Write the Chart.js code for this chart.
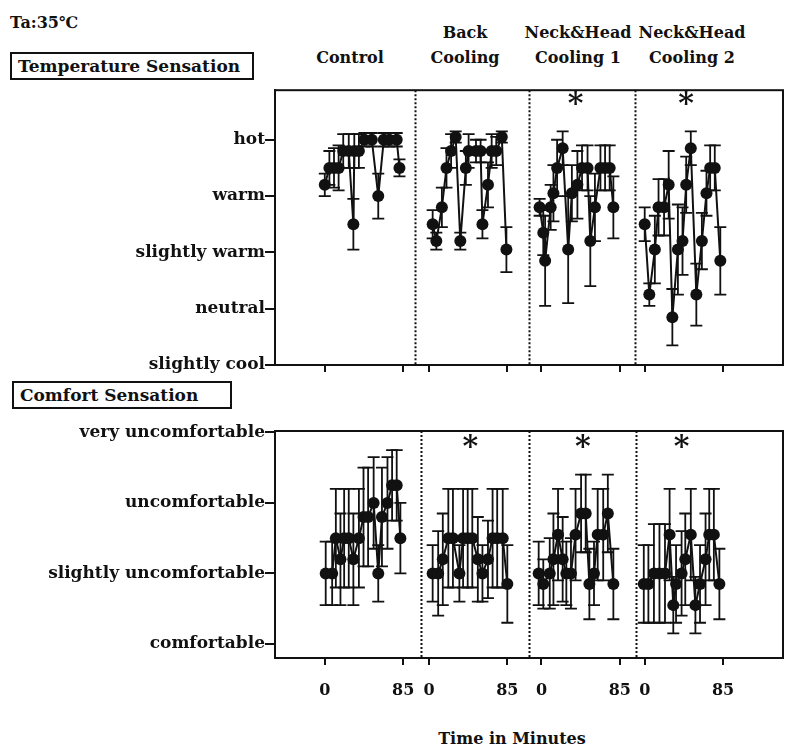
<!DOCTYPE html>
<html>
<head>
<meta charset="utf-8">
<script src="https://cdn.jsdelivr.net/npm/chart.js@4.4.0/dist/chart.umd.min.js"></script>
<style>
  body { margin: 0; background: #fff; }
  #page { position: relative; width: 789px; height: 748px; overflow: hidden;
          font-family: "DejaVu Serif", serif; font-weight: bold; color: #111; }
  .txt { position: absolute; white-space: nowrap; font-size: 16px; line-height: 25px; }
  .c { transform: translateX(-50%); text-align: center; }
  .box { position: absolute; border: 2px solid #111; font-size: 17px; height: 24px; line-height: 24px;
         padding: 0 0 0 6px; white-space: nowrap; box-sizing: content-box; }
  canvas { position: absolute; left: 0; }
</style>
</head>
<body>
<div id="page">
  <div class="txt" style="left:10px;top:10px;">Ta:35℃</div>
  <div class="box" style="left:10px;top:52px;width:234px;">Temperature Sensation</div>
  <div class="box" style="left:12px;top:381px;width:210px;">Comfort Sensation</div>
  <div class="txt c" style="left:350px;top:45px;">Control</div>
  <div class="txt c" style="left:465px;top:20px;">Back<br>Cooling</div>
  <div class="txt c" style="left:578px;top:20px;">Neck&amp;Head<br>Cooling 1</div>
  <div class="txt c" style="left:692px;top:20px;">Neck&amp;Head<br>Cooling 2</div>
  <div class="txt c" style="left:512px;top:726px;">Time in Minutes</div>
  <canvas id="tempChart" style="top:80px;" width="789" height="300"></canvas>
  <canvas id="comfChart" style="top:420px;" width="789" height="300"></canvas>
</div>
<script>
// condition groups, and where each group's 0 min sits on the shared time axis
const groups = ['Control', 'Back Cooling', 'Neck&Head Cooling 1', 'Neck&Head Cooling 2'];
const groupOffsets = [0, 113, 235, 347];

// Temperature sensation (0 = slightly cool ... 4 = hot)
const tempLabels = ['slightly cool', 'neutral', 'slightly warm', 'warm', 'hot'];
const tempTimes = [
  [0, 5, 10, 15, 20, 26, 31, 32, 37, 43, 51, 58, 64, 70, 78, 81],
  [4, 8, 14, 19, 24, 29, 34, 40, 43, 51, 56, 58, 64, 68, 73, 79, 84],
  [-2, 2, 4, 10, 13, 17, 23, 29, 33, 39, 44, 50, 53, 58, 64, 69, 74, 78],
  [0, 5, 11, 15, 21, 26, 30, 36, 41, 45, 50, 56, 62, 67, 71, 76, 82]
];
const tempMeans = [
  [3.2, 3.5, 3.5, 3.5, 3.8, 3.8, 2.5, 3.8, 3.8, 4, 4, 3, 4, 4, 4, 3.5],
  [2.5, 2.2, 2.8, 3.5, 3.8, 4.05, 2.2, 3.5, 3.8, 3.8, 3.8, 2.5, 3.2, 3.8, 3.8, 4.05, 2.05],
  [2.8, 2.35, 1.85, 2.8, 3.05, 3.5, 3.85, 2.05, 3.05, 3.2, 3.5, 3.5, 2.2, 2.8, 3.5, 3.5, 3.5, 2.8],
  [2.5, 1.25, 2.05, 2.8, 2.8, 3.2, 0.85, 2.05, 2.2, 3.2, 3.85, 1.25, 2.2, 3.05, 3.5, 3.5, 1.85]
];
const tempSD = [
  [0.2, 0.3, 0.35, 0.4, 0.3, 0.3, 0.45, 0.3, 0.3, 0.12, 0.12, 0.4, 0.12, 0.12, 0.12, 0.15],
  [0.25, 0.15, 0.35, 0.35, 0.3, 0.1, 0.15, 0.3, 0.3, 0.2, 0.2, 0.25, 0.4, 0.3, 0.25, 0.1, 0.4],
  [0.15, 0.4, 0.8, 0.4, 0.5, 0.5, 0.3, 0.95, 0.5, 0.6, 0.4, 0.4, 0.8, 0.6, 0.4, 0.4, 0.4, 0.55],
  [0.3, 0.2, 0.6, 0.5, 0.5, 0.6, 0.5, 0.8, 0.6, 0.5, 0.3, 0.55, 0.5, 0.4, 0.4, 0.4, 0.6]
];

// Comfort sensation (0 = comfortable ... 3 = very uncomfortable)
const comfLabels = ['comfortable', 'slightly uncomfortable', 'uncomfortable', 'very uncomfortable'];
const comfTimes = [
  [1, 8, 12, 17, 21, 26, 31, 37, 42, 47, 53, 58, 62, 68, 73, 78, 82],
  [4, 10, 15, 21, 26, 33, 37, 42, 47, 53, 58, 64, 69, 74, 80, 85],
  [-3, 2, 9, 13, 18, 23, 27, 32, 37, 43, 48, 52, 57, 61, 67, 72, 78],
  [-1, 4, 10, 16, 22, 27, 31, 34, 40, 44, 50, 55, 60, 66, 70, 75, 81]
];
const comfMeans = [
  [1.0, 1.0, 1.5, 1.2, 1.5, 1.5, 1.2, 1.5, 1.8, 1.8, 2.0, 1.0, 1.8, 2.0, 2.25, 2.25, 1.5],
  [1.0, 1.0, 1.2, 1.5, 1.5, 1.0, 1.5, 1.5, 1.5, 1.2, 1.0, 1.2, 1.5, 1.5, 1.5, 0.85],
  [1.0, 0.85, 1.0, 1.2, 1.55, 1.2, 1.0, 1.0, 1.55, 1.85, 1.85, 0.85, 1.0, 1.55, 1.55, 1.85, 0.85],
  [0.85, 0.85, 1.0, 1.0, 1.0, 1.55, 0.55, 0.85, 1.0, 1.2, 1.55, 0.55, 0.85, 1.2, 1.55, 1.55, 0.85]
];
const comfSD = [
  [0.45, 0.45, 0.7, 0.65, 0.7, 0.7, 0.65, 0.7, 0.7, 0.7, 0.65, 0.4, 0.7, 0.65, 0.5, 0.5, 0.5],
  [0.4, 0.6, 0.65, 0.7, 0.7, 0.4, 0.7, 0.7, 0.7, 0.6, 0.4, 0.55, 0.7, 0.7, 0.7, 0.55],
  [0.45, 0.35, 0.5, 0.65, 0.65, 0.6, 0.45, 0.5, 0.65, 0.55, 0.55, 0.5, 0.45, 0.65, 0.65, 0.55, 0.5],
  [0.55, 0.55, 0.7, 0.7, 0.7, 0.65, 0.4, 0.55, 0.6, 0.65, 0.65, 0.4, 0.55, 0.65, 0.65, 0.65, 0.5]
];

// significance marks (minute within group), null = none
const tempStars = [null, null, 37, 45];
const comfStars = [null, 45, 45, 40];
const tempDividers = [98, 221, 336];
const comfDividers = [104, 222, 338];
const xTickMinutes = [0, 85];

const FONT = '"DejaVu Serif", serif';

// SD bars behind the points
const errorBars = {
  id: 'errorBars',
  beforeDatasetsDraw(chart) {
    const { ctx, scales: { x, y } } = chart;
    ctx.save();
    ctx.strokeStyle = '#111';
    ctx.lineWidth = 1.8;
    chart.data.datasets.forEach(ds => {
      ds.data.forEach((p, i) => {
        const e = ds.errors[i];
        const px = x.getPixelForValue(p.x);
        const top = y.getPixelForValue(p.y + e);
        const bot = y.getPixelForValue(p.y - e);
        ctx.beginPath();
        ctx.moveTo(px, top); ctx.lineTo(px, bot);
        ctx.moveTo(px - 6, top); ctx.lineTo(px + 6, top);
        ctx.moveTo(px - 6, bot); ctx.lineTo(px + 6, bot);
        ctx.stroke();
      });
    });
    ctx.restore();
  }
};

// frame, dotted group dividers and asterisks
const panelDecor = {
  id: 'panelDecor',
  afterDraw(chart, args, opts) {
    const { ctx, chartArea: a, scales: { x } } = chart;
    ctx.save();
    ctx.strokeStyle = '#111';
    ctx.lineWidth = 2;
    ctx.strokeRect(a.left, a.top, a.right - a.left, a.bottom - a.top);
    ctx.setLineDash([2, 2]);
    opts.dividers.forEach(d => {
      const px = Math.round(x.getPixelForValue(d)) + 0.5;
      ctx.beginPath(); ctx.moveTo(px, a.top); ctx.lineTo(px, a.bottom); ctx.stroke();
    });
    ctx.setLineDash([]);
    ctx.fillStyle = '#111';
    ctx.font = 'bold 30px ' + FONT;
    ctx.textAlign = 'center';
    ctx.textBaseline = 'top';
    opts.stars.forEach((s, g) => {
      if (s === null) return;
      ctx.fillText('*', x.getPixelForValue(groupOffsets[g] + s), a.top + opts.starOffset);
    });
    ctx.restore();
  }
};

function makeDatasets(times, means, sds) {
  return groups.map((g, gi) => ({
    label: g,
    data: times[gi].map((t, i) => ({ x: groupOffsets[gi] + t, y: means[gi][i] })),
    errors: sds[gi],
    borderColor: '#111',
    backgroundColor: '#111',
    borderWidth: 2,
    pointRadius: 6,
    pointBorderWidth: 0,
    tension: 0
  }));
}

function makeChart(id, cfg) {
  return new Chart(document.getElementById(id), {
    type: 'line',
    data: { datasets: makeDatasets(cfg.times, cfg.means, cfg.sds) },
    options: {
      responsive: false,
      animation: false,
      layout: { padding: { top: cfg.padTop, right: 2, left: 0, bottom: 0 } },
      plugins: {
        legend: { display: false },
        tooltip: { enabled: false },
        panelDecor: { dividers: cfg.dividers, stars: cfg.stars, starOffset: cfg.starOffset }
      },
      scales: {
        x: {
          type: 'linear',
          min: -54, max: 497,
          afterFit: s => { s.height = cfg.xHeight; },
          afterBuildTicks: s => {
            s.ticks = groupOffsets.flatMap(o => xTickMinutes.map(m => ({ value: o + m })));
          },
          grid: { drawOnChartArea: false, drawTicks: true, tickLength: 7, color: '#111', lineWidth: 2 },
          border: { display: true, color: '#111', width: 2 },
          ticks: {
            display: cfg.showX,
            padding: 16,
            color: '#111',
            font: { family: FONT, weight: 'bold', size: 16 },
            maxRotation: 0,
            autoSkip: false,
            callback: v => String(Math.round(v - groupOffsets.filter(o => o <= v + 5).pop()))
          }
        },
        y: {
          min: cfg.yMin, max: cfg.yMax,
          afterFit: s => { s.width = 275; },
          afterBuildTicks: s => { s.ticks = cfg.labels.map((l, i) => ({ value: i })); },
          grid: { drawOnChartArea: false, drawTicks: true, tickLength: 10, color: '#111', lineWidth: 2 },
          border: { display: true, color: '#111', width: 2 },
          ticks: {
            padding: 0,
            color: '#111',
            font: { family: FONT, weight: 'bold', size: 17 },
            callback: v => cfg.labels[v]
          }
        }
      }
    },
    plugins: [errorBars, panelDecor]
  });
}

makeChart('tempChart', {
  times: tempTimes, means: tempMeans, sds: tempSD, labels: tempLabels,
  yMin: 0, yMax: 4.88, padTop: 8, xHeight: 15, showX: false,
  dividers: tempDividers, stars: tempStars, starOffset: 0
});

makeChart('comfChart', {
  times: comfTimes, means: comfMeans, sds: comfSD, labels: comfLabels,
  yMin: -0.2, yMax: 3.02, padTop: 11, xHeight: 62, showX: true,
  dividers: comfDividers, stars: comfStars, starOffset: 2
});
</script>
</body>
</html>
